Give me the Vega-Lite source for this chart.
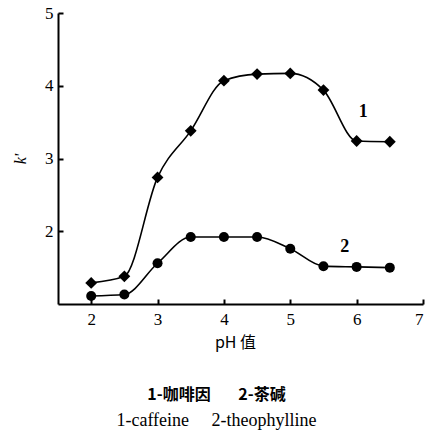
{
  "$schema": "https://vega.github.io/schema/vega-lite/v6.json",
  "autosize": "none",
  "width": 365,
  "height": 291,
  "padding": {"left": 58, "top": 13, "right": 9, "bottom": 133},
  "background": "white",
  "config": {
    "view": {"stroke": null},
    "font": "Liberation Serif"
  },
  "title": {
    "text": "1-咖啡因\u3000\u2002 2-茶碱",
    "subtitle": "1-caffeine\u3000 2-theophylline",
    "orient": "bottom",
    "anchor": "middle",
    "dx": -24,
    "offset": 37,
    "font": "Noto Sans CJK SC",
    "fontSize": 16,
    "fontWeight": "bold",
    "color": "black",
    "subtitleFont": "Liberation Serif",
    "subtitleFontSize": 18,
    "subtitleColor": "black",
    "subtitlePadding": 9
  },
  "datasets": {
    "series": [
      {"pH": 2, "k": 1.29, "compound": "1"},
      {"pH": 2.5, "k": 1.38, "compound": "1"},
      {"pH": 3, "k": 2.74, "compound": "1"},
      {"pH": 3.5, "k": 3.38, "compound": "1"},
      {"pH": 4, "k": 4.07, "compound": "1"},
      {"pH": 4.5, "k": 4.16, "compound": "1"},
      {"pH": 5, "k": 4.17, "compound": "1"},
      {"pH": 5.5, "k": 3.94, "compound": "1"},
      {"pH": 6, "k": 3.24, "compound": "1"},
      {"pH": 6.5, "k": 3.23, "compound": "1"},
      {"pH": 2, "k": 1.11, "compound": "2"},
      {"pH": 2.5, "k": 1.13, "compound": "2"},
      {"pH": 3, "k": 1.56, "compound": "2"},
      {"pH": 3.5, "k": 1.92, "compound": "2"},
      {"pH": 4, "k": 1.92, "compound": "2"},
      {"pH": 4.5, "k": 1.92, "compound": "2"},
      {"pH": 5, "k": 1.76, "compound": "2"},
      {"pH": 5.5, "k": 1.52, "compound": "2"},
      {"pH": 6, "k": 1.51, "compound": "2"},
      {"pH": 6.5, "k": 1.5, "compound": "2"}
    ],
    "labels": [
      {"pH": 6.1, "k": 3.64, "label": "1"},
      {"pH": 5.82, "k": 1.78, "label": "2"}
    ]
  },
  "encoding": {
    "x": {
      "field": "pH", "type": "quantitative",
      "scale": {"domain": [1.5, 7], "nice": false, "zero": false},
      "axis": {
        "title": "pH 值", "values": [2, 3, 4, 5, 6, 7],
        "domainColor": "black", "domainWidth": 2,
        "tickColor": "black", "tickWidth": 2, "tickSize": -5,
        "labelFont": "Liberation Serif",
        "labelFontSize": 17, "labelColor": "black", "labelPadding": 12,
        "titleFont": "Noto Sans CJK SC", "titleFontSize": 16, "titleFontWeight": "normal",
        "titleColor": "black", "titlePadding": 7, "titleX": 177,
        "grid": false
      }
    },
    "y": {
      "field": "k", "type": "quantitative",
      "scale": {"domain": [1, 5], "nice": false, "zero": false},
      "axis": {
        "title": "k'", "values": [2, 3, 4, 5],
        "domainColor": "black", "domainWidth": 2,
        "tickColor": "black", "tickWidth": 2, "tickSize": -5,
        "labelFont": "Liberation Serif",
        "labelFontSize": 17, "labelColor": "black", "labelPadding": 10,
        "titleFont": "Liberation Serif", "titleFontStyle": "italic", "titleFontWeight": "normal",
        "titleFontSize": 16, "titleColor": "black", "titlePadding": 16,
        "grid": false
      }
    }
  },
  "layer": [
    {
      "data": {"name": "series"},
      "mark": {"type": "line", "color": "black", "strokeWidth": 1.6, "interpolate": "monotone"},
      "encoding": {"detail": {"field": "compound"}}
    },
    {
      "data": {"name": "series"},
      "transform": [{"filter": "datum.compound == '1'"}],
      "mark": {"type": "point", "shape": "diamond", "filled": true, "color": "black", "size": 140, "opacity": 1}
    },
    {
      "data": {"name": "series"},
      "transform": [{"filter": "datum.compound == '2'"}],
      "mark": {"type": "point", "shape": "circle", "filled": true, "color": "black", "size": 100, "opacity": 1}
    },
    {
      "data": {"name": "labels"},
      "mark": {"type": "text", "font": "Liberation Serif", "fontSize": 18, "fontWeight": "bold", "color": "black"},
      "encoding": {"text": {"field": "label"}}
    }
  ]
}
